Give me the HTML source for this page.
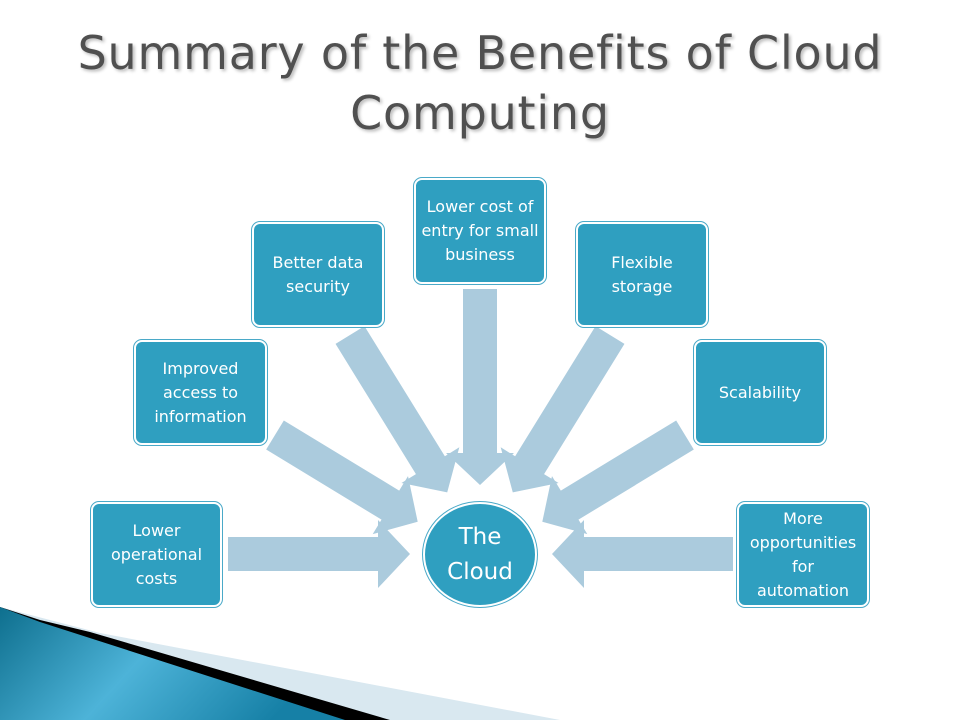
<!DOCTYPE html>
<html><head><meta charset="utf-8"><style>
body{margin:0;width:960px;height:720px;background:#fff;overflow:hidden;position:relative;font-family:"DejaVu Sans","Liberation Sans",sans-serif}
.t{position:absolute;left:0;width:960px;text-align:center;font-size:46px;color:#505050;text-shadow:2px 2px 3px #bbb;letter-spacing:0.8px}
.b{position:absolute;width:128px;height:101px;background:#2f9fc0;border:2px solid #fff;outline:1px solid #4aa9c8;border-radius:8px;color:#fff;font-size:16px;line-height:24px;display:flex;align-items:center;justify-content:center;text-align:center;box-sizing:border-box}
.c{position:absolute;left:423px;top:502px;width:114px;height:105px;border-radius:50%;background:#2f9fc0;border:2px solid #fff;outline:1px solid #4aa9c8;box-sizing:border-box;color:#fff;font-size:23px;line-height:35px;display:flex;align-items:center;justify-content:center;text-align:center}
</style></head><body>
<svg width="960" height="720" style="position:absolute;left:0;top:0">
<defs>
<linearGradient id="g" x1="0" y1="0" x2="1" y2="0.3"><stop offset="0" stop-color="#0e6f8e"/><stop offset="0.5" stop-color="#4db3d8"/><stop offset="1" stop-color="#1680a6"/></linearGradient>
</defs>
<polygon points="0,607 0,720 560,720 100,633" fill="#d9e8f0"/>
<polygon points="0,607 0,720 390,720 90,632 40,620" fill="#000"/>
<polygon points="0,607 0,720 345,720 40,622" fill="url(#g)"/>
<g fill="#abcbdd">
<g transform="translate(228,554) rotate(0)"><polygon points="0,-17 150,-17 150,-34 182,0 150,34 150,17 0,17"/></g>
<g transform="translate(733,554) rotate(180)"><polygon points="0,-17 149,-17 149,-34 181,0 149,34 149,17 0,17"/></g>
<g transform="translate(480,289) rotate(90)"><polygon points="0,-17 164,-17 164,-34 196,0 164,34 164,17 0,17"/></g>
<g transform="translate(275,435) rotate(31.3)"><polygon points="0,-17 135,-17 135,-34 167,0 135,34 135,17 0,17"/></g>
<g transform="translate(350,335) rotate(58.3)"><polygon points="0,-17 153,-17 153,-34 185,0 153,34 153,17 0,17"/></g>
<g transform="translate(610,335) rotate(121.7)"><polygon points="0,-17 153,-17 153,-34 185,0 153,34 153,17 0,17"/></g>
<g transform="translate(685,435) rotate(148.7)"><polygon points="0,-17 135,-17 135,-34 167,0 135,34 135,17 0,17"/></g>
</g>
</svg>
<div class="t" style="top:26px">Summary of the Benefits of Cloud</div>
<div class="t" style="top:86px">Computing</div>
<div class="b" style="left:91px;top:502px;width:131px;height:105px">Lower<br>operational<br>costs</div>
<div class="b" style="left:134px;top:340px;width:133px;height:105px">Improved<br>access to<br>information</div>
<div class="b" style="left:252px;top:222px;width:132px;height:105px">Better data<br>security</div>
<div class="b" style="left:414px;top:178px;width:132px;height:106px">Lower cost of<br>entry for small<br>business</div>
<div class="b" style="left:576px;top:222px;width:132px;height:105px">Flexible<br>storage</div>
<div class="b" style="left:694px;top:340px;width:132px;height:105px">Scalability</div>
<div class="b" style="left:737px;top:502px;width:132px;height:105px">More<br>opportunities<br>for<br>automation</div>
<div class="c">The<br>Cloud</div>
</body></html>
